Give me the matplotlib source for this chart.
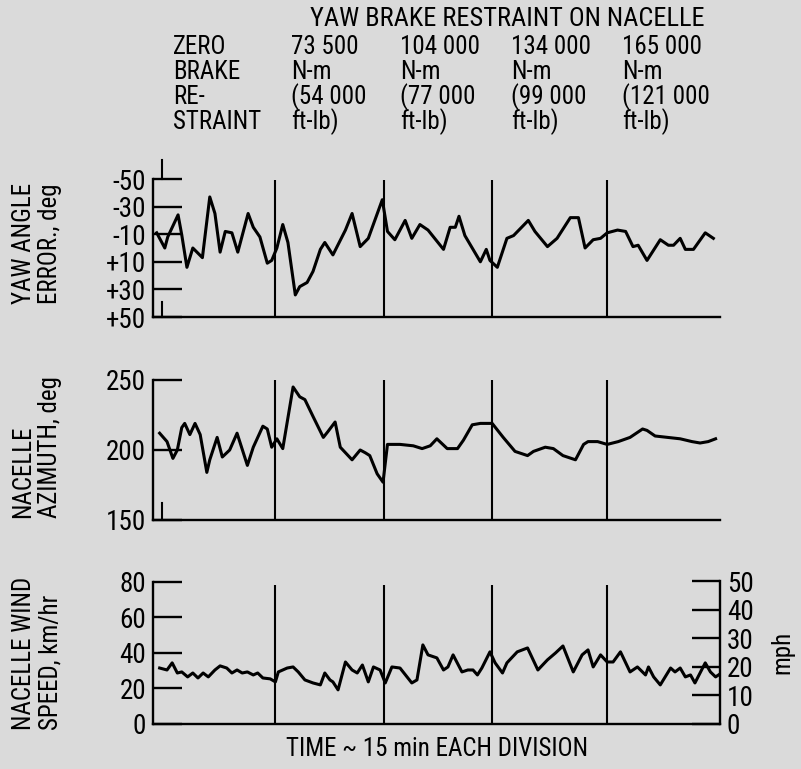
import matplotlib
matplotlib.use("Agg")
import matplotlib.pyplot as plt
from matplotlib import font_manager

# ---------------- data (time in minutes) ----------------
division_t = [16.6, 31.3, 46.0, 61.6]
t_end = 76.9

yaw_t = [0.5, 1.6, 2.0, 3.4, 3.9, 4.6, 5.4, 6.7, 7.7, 8.4, 9.1, 9.8, 10.7, 11.5, 12.9,
         13.6, 14.5, 15.5, 16.1, 16.8, 17.6, 18.3, 19.3, 19.9, 20.9, 21.7, 22.7, 23.3,
         24.4, 26.1, 27.0, 28.1, 29.2, 31.1, 31.8, 32.8, 34.2, 35.1, 36.2, 37.3, 39.4,
         40.3, 41.0, 41.5, 42.3, 44.4, 45.2, 45.7, 46.7, 48.0, 48.9, 50.9, 51.8, 53.5,
         54.8, 56.6, 57.7, 58.6, 59.7, 60.7, 61.6, 63.0, 64.1, 65.1, 65.8, 67.0, 68.8,
         69.9, 70.6, 71.5, 72.2, 73.3, 74.9, 76.0]
yaw_err = [-11, 0, -8, -24, -9.5, 14, 0, 7, -37, -25, 3, -12, -11, 3, -25,
           -15, -8, 11, 9, 0, -17, -4, 34, 28, 25, 17, 1, -4,
           5, -13, -25, -1, -7, -35, -12, -6, -20, -7, -17, -13, 1,
           -15, -15, -23, -9, 10, 1, 9, 14, -7, -9, -20, -12, -1,
           -7, -22, -22, 0, -6, -7, -11, -13, -12, -1, -2, 9, -6,
           -2, -2, -7, 1, 1, -11, -7]

az_t = [0.9, 1.9, 2.7, 3.3, 3.9, 4.3, 5.0, 5.7, 6.4, 7.3, 7.7, 8.7, 9.4, 10.4, 11.4,
        12.8, 13.6, 14.9, 15.5, 16.1, 16.8, 17.6, 19.0, 19.9, 20.6, 21.7, 23.1, 23.7,
        24.7, 25.4, 27.0, 28.1, 28.8, 29.4, 30.4, 31.2, 31.8,
        33.5, 35.3, 36.5, 37.6, 38.5, 39.9, 41.3, 42.1, 43.3, 44.4, 46.0, 47.5, 49.1,
        50.8, 51.6, 53.2, 54.3, 55.6, 57.3, 58.4, 59.0, 60.3, 61.6, 63.1, 64.7, 66.4,
        67.0, 68.1, 69.8, 71.5, 73.1, 74.2, 75.3, 76.3]
azimuth = [212, 206, 194, 200, 216, 219, 211, 219, 211, 184, 193, 209, 195, 200, 212,
           189, 202, 217, 215, 202, 208, 201, 245, 238, 236, 224, 209, 213,
           220, 202, 193, 200, 198, 196, 183, 177, 204,
           204, 203, 201, 203, 208, 201, 201, 207, 218, 219, 219, 209, 199,
           196, 199, 202, 201, 196, 193, 204, 206, 206, 204, 206, 209, 215,
           214, 210, 209, 208, 206, 205, 206, 208]

wind_t = [0.9, 1.9, 2.6, 3.3, 3.9, 4.7, 5.4, 6.1, 6.8, 7.5, 8.4, 9.1, 10.0, 10.7, 11.4,
          12.1, 12.8, 13.6, 14.2, 14.9, 15.9, 16.6, 17.0, 18.2, 19.0, 19.7, 20.6, 21.7,
          22.7, 23.3, 24.0, 24.4, 25.1, 26.1, 27.0, 27.7, 28.4, 29.2, 29.9, 30.8, 31.5,
          32.4, 33.5, 35.1, 35.8, 36.6, 37.3, 38.5, 39.4, 40.0, 40.7, 41.9, 42.7, 43.4,
          44.0, 44.6, 45.7, 46.4, 47.4, 48.0, 49.4, 50.8, 52.2, 53.5, 54.6, 55.6, 57.0,
          58.2, 59.0, 59.7, 60.7, 61.6, 62.4, 63.4, 64.7, 65.7, 66.8, 67.2, 67.9, 68.8,
          70.2, 70.8, 71.5, 72.2, 72.9, 73.5, 74.9, 75.6, 76.3, 76.7]
wind_kmh = [31.5, 30.4, 34.4, 28.7, 29.3, 26.5, 28.7, 25.9, 28.7, 26.5, 30.4, 32.7, 31.5,
            28.7, 30.4, 28.7, 29.3, 27.6, 28.7, 25.9, 25.4, 23.7, 29.3, 31.5, 32.1, 29.3,
            24.8, 23.1, 22.0, 28.7, 24.8, 23.7, 19.2, 34.9, 30.4, 28.7, 33.2, 23.7, 32.1,
            30.4, 23.1, 32.1, 31.5, 23.1, 24.8, 44.5, 38.9, 37.2, 30.4, 32.1, 38.9, 29.3,
            30.4, 30.4, 27.6, 31.5, 40.6, 34.4, 28.7, 34.4, 40.6, 42.8, 30.4, 36.1, 40.0,
            43.9, 29.3, 38.9, 41.7, 32.1, 38.9, 34.9, 34.9, 40.6, 29.3, 32.1, 27.6, 32.1,
            26.5, 22.0, 31.5, 29.3, 31.5, 26.5, 27.6, 23.1, 34.4, 29.3, 26.5, 27.6]

yaw_ticks = [-50, -30, -10, 10, 30, 50]
yaw_ticklabels = ["-50", "-30", "-10", "+10", "+30", "+50"]
az_ticks = [150, 200, 250]
kmh_ticks = [0, 20, 40, 60, 80]
mph_ticks = [0, 10, 20, 30, 40, 50]

header_title = "YAW BRAKE RESTRAINT ON NACELLE"
header_cols = [
    ["ZERO", "BRAKE", "RE-", "STRAINT"],
    ["73 500", "N-m", "(54 000", "ft-lb)"],
    ["104 000", "N-m", "(77 000", "ft-lb)"],
    ["134 000", "N-m", "(99 000", "ft-lb)"],
    ["165 000", "N-m", "(121 000", "ft-lb)"],
]

# ---------------- style ----------------
def pick_font():
    for name in ["Liberation Sans Narrow", "Roboto Condensed", "DejaVu Sans"]:
        try:
            font_manager.findfont(name, fallback_to_default=False)
            return name
        except Exception:
            continue
    return "DejaVu Sans"

FONT = pick_font()
plt.rcParams["font.family"] = [FONT, "DejaVu Sans"]
BG = "#dadada"
LW_AX = 1.7
LW_DATA = 2.2
FS = 18
FS_TICK = 19.5

W, H = 801, 769
fig = plt.figure(figsize=(W / 100, H / 100), dpi=100, facecolor=BG)

def fx(px):
    return px / W

def fy(py):
    return 1 - py / H

x0, x1 = 153, 720
ax1 = fig.add_axes([fx(x0), fy(317), fx(x1 - x0), fy(179) - fy(317)])
ax2 = fig.add_axes([fx(x0), fy(520), fx(x1 - x0), fy(380) - fy(520)])
ax3 = fig.add_axes([fx(x0), fy(724), fx(x1 - x0), fy(581) - fy(724)])

for ax in (ax1, ax2, ax3):
    ax.set_facecolor(BG)
    ax.set_xlim(0, t_end)
    for s in ("top", "right"):
        ax.spines[s].set_visible(False)
    for s in ("left", "bottom"):
        ax.spines[s].set_linewidth(LW_AX)
    ax.set_xticks([])
    ax.tick_params(axis="y", direction="in", length=21, width=LW_AX, pad=5,
                   labelsize=FS_TICK)

# top panel
ax1.set_ylim(50, -50)
ax1.set_yticks(yaw_ticks)
ax1.set_yticklabels(yaw_ticklabels)
ax1.vlines(division_t, 50, -49, color="k", lw=1.5)
ax1.plot(yaw_t, yaw_err, color="k", lw=LW_DATA, solid_joinstyle="round")
ax1.plot([1.2, 1.2], [-50, -64], color="k", lw=1.5, clip_on=False)
ax1.plot([1.2, 1.2], [39, 50], color="k", lw=1.5, clip_on=False)

# middle panel
ax2.set_ylim(150, 250)
ax2.set_yticks(az_ticks)
ax2.vlines(division_t, 150, 250, color="k", lw=1.5)
ax2.plot(az_t, azimuth, color="k", lw=LW_DATA, solid_joinstyle="round")
ax2.plot([1.2, 1.2], [150, 162], color="k", lw=1.5)

# bottom panel
ax3.set_ylim(0, 50 * 1.609344)
ax3.set_yticks(kmh_ticks)
ax3.spines["left"].set_bounds(0, 80)
ax3.vlines(division_t, 0, 78, color="k", lw=1.5)
ax3.plot(wind_t, wind_kmh, color="k", lw=LW_DATA, solid_joinstyle="round")
ax3r = ax3.twinx()
ax3r.set_ylim(0, 50)
ax3r.set_yticks(mph_ticks)
for s in ("top", "left", "bottom"):
    ax3r.spines[s].set_visible(False)
ax3r.spines["right"].set_linewidth(LW_AX)
ax3r.tick_params(axis="y", direction="in", length=20, width=LW_AX, pad=5,
                 labelsize=FS_TICK)
ax3r.set_ylabel("mph", fontsize=FS, labelpad=12)

# axis labels (left)
for ypix, txt in [(243, "YAW ANGLE\nERROR., deg"),
                  (447, "NACELLE\nAZIMUTH, deg"),
                  (653, "NACELLE WIND\nSPEED, km/hr")]:
    fig.text(fx(37), fy(ypix), txt, rotation=90, ha="center", va="center",
             ma="left", fontsize=FS, linespacing=1.15)

fig.text(fx(437), fy(749), "TIME ~ 15 min EACH DIVISION", ha="center", va="center",
         fontsize=FS)

# header
fig.text(fx(310), fy(19), header_title, ha="left", va="center", fontsize=19)
col_x = [173, 291, 400, 511, 622]
row_y = [47, 72, 97, 122]
for cx, col in zip(col_x, header_cols):
    for ry, txt in zip(row_y, col):
        fig.text(fx(cx), fy(ry), txt, ha="left", va="center", fontsize=FS)

fig.savefig("out.png", dpi=100, facecolor=BG)
